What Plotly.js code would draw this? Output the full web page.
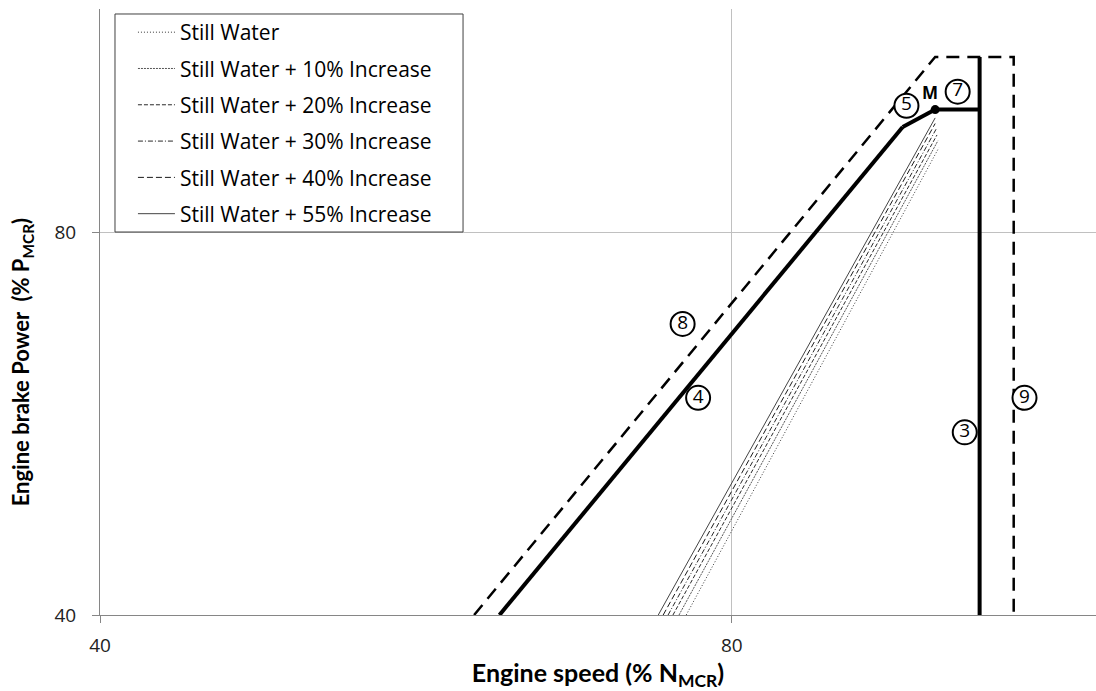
<!DOCTYPE html>
<html>
<head>
<meta charset="utf-8">
<script src="https://cdn.plot.ly/plotly-3.0.1.min.js"></script>
<style>
  html, body { margin: 0; padding: 0; background: #ffffff; overflow: hidden; }
  #chart { width: 1096px; height: 691px; }
</style>
</head>
<body>
<div id="chart"></div>
<script>
// Propeller curves (engine speed % N_MCR vs engine brake power % P_MCR)
const curveNames = [
  "Still Water",
  "Still Water + 10% Increase",
  "Still Water + 20% Increase",
  "Still Water + 30% Increase",
  "Still Water + 40% Increase",
  "Still Water + 55% Increase"
];
const curveSpeedLow  = [76.1, 75.5, 75.0, 74.6, 74.2, 73.8];
const curvePowerLow  = [40, 40, 40, 40, 40, 40];
const curveSpeedHigh = [100.4, 100.3, 100.2, 100.1, 100.0, 100.0];
const curvePowerHigh = [93.3, 94.5, 95.5, 96.5, 97.5, 98.5];
const curveDashes = ["1px,2px", "2px,1px", "4px,2px", "5px,2px,1px,2px", "6px,3px", "solid"];
const curveColors = ["#3a3a3a", "#555555", "#2a2a2a", "#2a2a2a", "#1a1a1a", "#444444"];

// Engine layout limit lines
const line4Speed = [62.0, 96.5];
const line4Power = [40, 96.9];
const line5Speed = [96.5, 100];
const line5Power = [96.9, 100];
const line7Speed = [100, 105];
const line7Power = [100, 100];
const line3Speed = [105, 105];
const line3Power = [40, 110];
const line89Speed = [60.3, 100, 109, 109];
const line89Power = [40, 110, 110, 40];

// MCR point
const pointMSpeed = [100];
const pointMPower = [100];

// Circled line numbers
const labelTexts  = ["8", "4", "5", "7", "3", "9"];
const labelSpeeds = [75.8, 77.1, 96.9, 102.5, 103.3, 110.3];
const labelPowers = [67.8, 59.3, 100.7, 103.3, 55.7, 59.3];

// Axis ticks
const speedTicks = [40, 80];
const powerTicks = [40, 80];

const traces = [];
for (let i = 0; i < curveNames.length; i++) {
  traces.push({
    type: "scatter",
    mode: "lines",
    name: curveNames[i],
    legendgroup: "g" + i,
    x: [curveSpeedLow[i], curveSpeedHigh[i]],
    y: [curvePowerLow[i], curvePowerHigh[i]],
    line: { color: curveColors[i], width: 1, dash: curveDashes[i] },
    hoverinfo: "skip"
  });
}
const thick = { color: "#000000", width: 4 };
[[line4Speed, line4Power], [line5Speed, line5Power], [line7Speed, line7Power], [line3Speed, line3Power]]
  .forEach(([xs, ys]) => traces.push({
    type: "scatter", mode: "lines", x: xs, y: ys,
    line: thick, showlegend: false, hoverinfo: "skip"
  }));
traces.push({
  type: "scatter", mode: "lines", x: line89Speed, y: line89Power,
  line: { color: "#000000", width: 2.5, dash: "13px,8px" },
  showlegend: false, hoverinfo: "skip"
});
traces.push({
  type: "scatter", mode: "markers", x: pointMSpeed, y: pointMPower,
  marker: { color: "#000000", size: 9 }, showlegend: false, hoverinfo: "skip"
});
// Line numbers in circles
traces.push({
  type: "scatter", mode: "markers+text",
  x: labelSpeeds, y: labelPowers, text: labelTexts,
  textposition: "middle center",
  textfont: { family: "Open Sans", size: 19, color: "#000000" },
  marker: { symbol: "circle", size: 24, color: "#ffffff", line: { color: "#000000", width: 2 } },
  showlegend: false, hoverinfo: "skip", cliponaxis: false
});

const annotations = [];
annotations.push({
  x: Math.log10(99.4), y: Math.log10(103.1), xref: "x", yref: "y",
  text: "<b>M</b>", showarrow: false,
  font: { family: "Open Sans", size: 17, color: "#000000" }
});
annotations.push({
  x: -0.078, y: 0.4175, xref: "paper", yref: "paper",
  text: "<b>Engine brake Power  (% P<sub>MCR</sub>)</b>",
  textangle: -90, showarrow: false, xanchor: "center", yanchor: "middle",
  font: { family: "Lato", size: 22, color: "#000000" }
});

const layout = {
  width: 1096,
  height: 691,
  margin: { l: 100, r: 0, t: 9, b: 76 },
  paper_bgcolor: "#ffffff",
  plot_bgcolor: "#ffffff",
  showlegend: true,
  legend: {
    x: 0.015, y: 0.995, xanchor: "left", yanchor: "top",
    bgcolor: "rgba(0,0,0,0)", borderwidth: 0,
    font: { family: "Open Sans", size: 21, color: "#000000" },
    traceorder: "grouped", tracegroupgap: 6, indentation: 18,
    itemwidth: 37
  },
  // legend frame
  shapes: [{
    type: "rect", xref: "paper", yref: "paper",
    x0: 0.01506, x1: 0.3645, y0: 0.632, y1: 0.99175,
    line: { color: "#404040", width: 1 }, fillcolor: "#ffffff", layer: "above"
  }],
  xaxis: {
    type: "log",
    range: [Math.log10(40), Math.log10(119.3)],
    tickvals: speedTicks, ticktext: speedTicks.map(String),
    ticks: "outside", ticklen: 7, tickcolor: "#868686",
    ticklabelstandoff: 6,
    showgrid: true, gridcolor: "#c0c0c0", gridwidth: 1,
    showline: true, linecolor: "#868686", linewidth: 1,
    zeroline: false,
    tickfont: { family: "Open Sans", size: 19, color: "#222222" },
    title: {
      text: "<b>Engine speed (% N<sub>MCR</sub>)</b>",
      font: { family: "Lato", size: 25, color: "#000000" },
      standoff: 4
    }
  },
  yaxis: {
    type: "log",
    range: [Math.log10(40), Math.log10(120)],
    tickvals: powerTicks, ticktext: powerTicks.map(String),
    ticks: "outside", ticklen: 7, tickcolor: "#868686",
    ticklabelstandoff: 12,
    showgrid: true, gridcolor: "#c0c0c0", gridwidth: 1,
    showline: true, linecolor: "#868686", linewidth: 1,
    zeroline: false,
    tickfont: { family: "Open Sans", size: 19, color: "#222222" }
  },
  annotations: annotations
};

Plotly.newPlot("chart", traces, layout, { staticPlot: true, displayModeBar: false });
</script>
</body>
</html>
